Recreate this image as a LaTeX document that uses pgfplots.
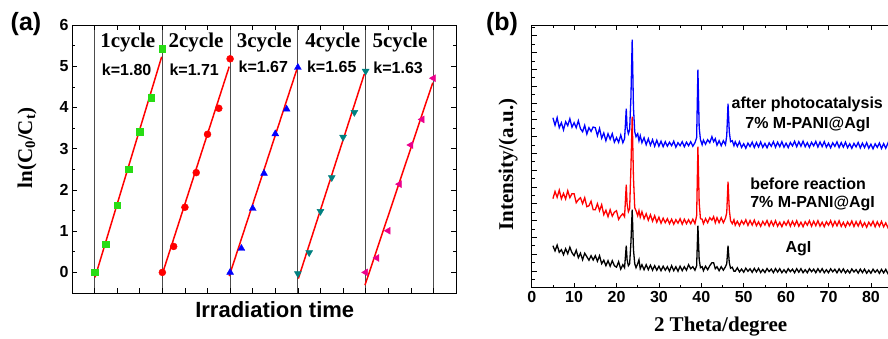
\documentclass[border=0pt]{standalone}
\usepackage{pgfplots}
\pgfplotsset{compat=1.18}
\usepackage{pgfplotstable}
\usepackage{fontspec}
\setmainfont{Liberation Serif}
\newfontfamily\arial{Liberation Sans}
\definecolor{lgreen}{RGB}{40,220,20}
\definecolor{tealc}{RGB}{0,128,128}

\pgfplotstableread{
x b r k
5.0 170 89 42
5.5 162.5 96.2 36.8
6.0 170 90.4 42.6
6.5 160 97.6 35.4
7.0 165 89 38
7.5 157.8 94.3 33
8.0 166 88.7 39
8.5 162 97 34
9.0 169 90 40.5
9.5 160.5 94 35
10.0 165 94 32
10.5 160 85 37.5
11.0 167 88 30
11.5 159 90 34.5
12.0 156 84 28
12.5 162.3 90 34.5
13.0 153.7 81 31
13.5 160 82 27.5
14.0 156.3 86.5 32
14.5 160.7 78 27.7
15.0 160 78 32
15.5 152 84 26.5
16.0 159.3 77 32
16.5 149.5 83 24
17.0 154.7 73 27.5
17.5 147 77.5 22
18.0 154 71 27
18.5 148.5 78 21.5
19.0 154 71.5 27
19.5 145.5 75.5 22
20.0 150 77 20.5
20.5 145.3 68.3 26
21.0 152.7 71.7 18.5
21.5 145 74 23
21.9 149 71 20
22.1 163 87 31
22.3 179 103 42
22.5 160 84 28
22.8 154 76 22
23.1 158 79 24
23.4 190 120 45
23.7 248 171 78
24.0 180 110 38
24.3 156 80 24
24.6 151 77 20
25.0 154 72 24
25.3 147 77 28
25.6 152 70.5 19
26.0 145 76 23
26.5 150 69 18
27.0 143 74 23
27.5 149 67.5 18
28.0 142.5 73 22.5
28.5 148 66.5 17.5
29.0 141.5 72 22
29.5 147.5 65.5 17.5
30.0 141.5 70.5 21.5
30.5 146.5 64.5 17
31.0 141 69.5 21.5
31.5 146 65 17.5
32.0 141.5 69 21
32.5 145.5 64 16.5
33.0 142 68.5 22
33.5 146.5 63.5 17
34.0 140.5 68 21
34.5 145 64.5 16.5
35.0 142 69 21.5
35.5 146 63.5 17
36.0 141 68.5 21
36.5 145.5 64 17.5
37.0 142 68 23
37.5 146 64 19
38.0 141.5 68.5 21
38.5 145 64 17.5
38.9 150 72 22
39.2 218 141 62
39.5 160 85 28
39.8 148 69 20
40.2 143 68.5 21
40.5 147.5 64 17
41.0 143.5 69 21.5
41.5 148 65 18
42.0 145 70 22
42.5 151 67.5 25
42.9 146 71 25
43.3 149 65 19
43.7 142.5 70 21
44.2 147 65 17
44.7 142 70 21
45.2 147 65 17.5
45.7 143 69.5 21
46.0 152 75 24
46.3 184 106 42
46.6 156 78 25
46.9 146 67 19.5
47.3 147 64 20.5
47.7 142 68 16.5
48.0 146 62.5 16.5
48.5 141.3 66.5 19.9
49.0 146 62 15.8
49.5 140.3 67 18.6
50.0 144 63.5 15.5
50.5 139.5 67.9 19.5
51.0 144.6 62.3 16.4
51.5 141.1 67.2 18.9
52.0 145.6 62.6 15.4
52.5 140.2 67.6 19.3
53.0 145.2 62 15.8
53.5 140.7 65.9 19.3
54.0 145.8 61.4 15.2
54.5 140.3 66.3 18.2
55.0 144.3 62.7 15.2
55.5 139.9 67.2 19.2
56.0 144.9 61.6 16.1
56.5 141.4 66.6 18.6
57.0 146 62 15.1
57.5 140.5 67 19.1
58.0 145.5 61.5 15.6
58.5 141 65.5 19
59.0 146 61 15
59.5 140.5 66 18
60.0 144.5 62.5 15
60.5 140.1 67 19
61.0 145.2 61.5 16
61.5 141.8 66.5 18.5
62.0 146.4 62 15
62.5 141 67 19
63.0 146 61.5 15.5
63.5 141.5 65.5 19
64.0 146.5 61 15
64.5 141 66 18
65.0 145 62.5 15
65.5 140.4 67 19
66.0 145.4 61.5 16
66.5 141.8 66.5 18.5
67.0 146.3 62 15
67.5 140.7 67 19
68.0 145.7 61.5 15.5
68.5 141.1 65.5 19
69.0 146.1 61 15
69.5 140.5 66 18
70.0 144.5 62.5 15
70.5 139.9 67 18.9
71.0 144.9 61.5 15.9
71.5 141.3 66.4 18.4
72.0 145.8 61.9 14.9
72.5 140.2 66.9 18.8
73.0 145.1 61.3 15.3
73.5 140.6 65.3 18.8
74.0 145.5 60.8 14.8
74.5 140 65.8 17.7
75.0 143.9 62.2 14.7
75.5 139.4 66.7 18.7
76.0 144.3 61.2 15.7
76.5 140.8 66.1 18.1
77.0 145.2 61.6 14.6
77.5 139.7 66.6 18.6
78.0 144.6 61.1 15.1
78.5 140.1 65 18.6
79.0 145 60.5 14.5
79.5 139.5 65.5 17.5
80.0 143.5 62 14.5
80.5 138.9 66.5 18.5
81.0 143.9 60.9 15.4
81.5 140.3 65.9 17.9
82.0 144.7 61.4 14.4
82.5 139.2 66.3 18.3
83.0 144.1 60.8 14.8
83.5 139.5 64.8 18.3
84.0 144.5 60.2 14.2
84.5 138.9 65.2 17.2
85.0 142.9 61.7 14.2
85.5 138.3 66.1 18.1
86.0 143.3 60.6 15.1
}\xrd

\begin{document}
\begin{tikzpicture}
\path[use as bounding box] (0,0) rectangle (888pt,-338pt);
% ---------- panel (a) ----------
\begin{axis}[
  at={(72pt,-25pt)}, anchor=north west, scale only axis,
  width=384pt, height=268pt,
  xmin=0, xmax=17, ymin=-0.5, ymax=6,
  xtick={0,...,17}, xticklabels={},
  ytick={0,...,6}, minor ytick={-0.5,0.5,...,5.5},
  tick align=inside, major tick length=5pt, minor tick length=3pt,
  extra x ticks={1,4,7,10,13,16}, extra x tick labels={},
  extra x tick style={grid=major, major grid style={black!70, line width=0.8pt}},
  tick label style={font=\arial\bfseries\fontsize{16}{16}\selectfont},
  /pgf/number format/assume math mode=true,
  axis line style={line width=0.8pt},
  every tick/.style={black, line width=0.6pt},
  xlabel={\arial\bfseries Irradiation time},
  xlabel style={font=\fontsize{22}{22}\selectfont, at={(axis description cs:0.528,-0.063)}, anchor=center},
  ylabel={\bfseries ln(C\textsubscript{0}/C\textsubscript{t})},
  ylabel style={font=\fontsize{21}{21}\selectfont, at={(axis description cs:-0.117,0.541)}, anchor=center},
  clip=false,
]
\addplot[only marks, mark=square*, mark size=3.3pt, color=lgreen]
  coordinates {(1,0) (1.5,0.68) (2,1.63) (2.5,2.5) (3,3.41) (3.5,4.24) (4,5.43)};
\addplot[only marks, mark=*, mark size=3.5pt, color=red]
  coordinates {(4,0) (4.5,0.63) (5,1.58) (5.5,2.42) (6,3.35) (6.5,3.98) (7,5.18)};
\addplot[only marks, mark=triangle*, mark size=4pt, color=blue]
  coordinates {(7,0) (7.5,0.58) (8,1.55) (8.5,2.40) (9,3.36) (9.5,3.96) (10,4.97)};
\addplot[only marks, mark=triangle*, mark size=4pt, mark options={rotate=180}, color=tealc]
  coordinates {(10,-0.03) (10.5,0.48) (11,1.48) (11.5,2.30) (12,3.28) (12.5,3.88) (13,4.88)};
\addplot[only marks, mark=triangle*, mark size=4pt, mark options={rotate=90}, color=magenta]
  coordinates {(13,0) (13.5,0.35) (14,1.01) (14.5,2.14) (15,3.09) (15.5,3.71) (16,4.71)};
\addplot[red, line width=1.5pt, no marks] coordinates {(1.02,-0.12) (3.97,5.23)};
\addplot[red, line width=1.5pt, no marks] coordinates {(4.01,-0.02) (6.96,4.99)};
\addplot[red, line width=1.5pt, no marks] coordinates {(6.96,-0.09) (9.97,4.95)};
\addplot[red, line width=1.5pt, no marks] coordinates {(10.02,-0.15) (12.94,4.81)};
\addplot[red, line width=1.5pt, no marks] coordinates {(12.97,-0.31) (15.97,4.6)};
\begin{scope}[every node/.style={font=\bfseries\fontsize{21}{21}\selectfont}]
\node at (axis cs:2.47,5.57) {1cycle};
\node at (axis cs:5.49,5.57) {2cycle};
\node at (axis cs:8.51,5.57) {3cycle};
\node at (axis cs:11.54,5.57) {4cycle};
\node at (axis cs:14.52,5.57) {5cycle};
\end{scope}
\begin{scope}[every node/.style={font=\arial\bfseries\fontsize{16}{16}\selectfont}]
\node at (axis cs:2.42,4.91) {k=1.80};
\node at (axis cs:5.41,4.91) {k=1.71};
\node at (axis cs:8.47,4.99) {k=1.67};
\node at (axis cs:11.5,4.99) {k=1.65};
\node at (axis cs:14.44,4.97) {k=1.63};
\end{scope}
\end{axis}
% ---------- panel (b) ----------
\begin{axis}[
  at={(531.7pt,-25pt)}, anchor=north west, scale only axis,
  width=381.6pt, height=262.7pt,
  xmin=0, xmax=90, ymin=0, ymax=262.7,
  xtick={0,10,...,80}, minor xtick={5,15,...,85},
  ytick={0,16.8,...,262}, minor tick num=1, yticklabels={},
  tick align=inside, major tick length=5pt, minor tick length=3pt,
  tick label style={font=\arial\bfseries\fontsize{16}{16}\selectfont},
  /pgf/number format/assume math mode=true,
  axis line style={line width=0.8pt},
  every tick/.style={black, line width=0.6pt},
  xlabel={\bfseries 2 Theta/degree},
  xlabel style={font=\fontsize{21}{21}\selectfont, at={(axis description cs:0.495,-0.148)}, anchor=center},
  ylabel={\bfseries Intensity/(a.u.)},
  ylabel style={font=\fontsize{21}{21}\selectfont, at={(axis description cs:-0.062,0.469)}, anchor=center},
  clip=false,
]
\addplot[blue, line width=1.3pt, no marks] table[x=x, y=b] {\xrd};
\addplot[red, line width=1.3pt, no marks] table[x=x, y=r] {\xrd};
\addplot[black, line width=1.3pt, no marks] table[x=x, y=k] {\xrd};
\begin{scope}[every node/.style={font=\arial\bfseries\fontsize{16}{16}\selectfont}]
\node at (axis cs:65.0,183.7) {after photocatalysis};
\node at (axis cs:65.1,162.7) {7\% M-PANI@AgI};
\node[anchor=west, inner sep=0pt] at (axis cs:51.5,104.4) {before reaction};
\node[anchor=west, inner sep=0pt] at (axis cs:51.5,84.4) {7\% M-PANI@AgI};
\node at (axis cs:62.9,38.7) {AgI};
\end{scope}
\end{axis}
\node[font=\arial\bfseries\fontsize{25}{25}\selectfont] at (26pt,-24pt) {(a)};
\node[font=\arial\bfseries\fontsize{25}{25}\selectfont] at (502pt,-24pt) {(b)};
\end{tikzpicture}
\end{document}
